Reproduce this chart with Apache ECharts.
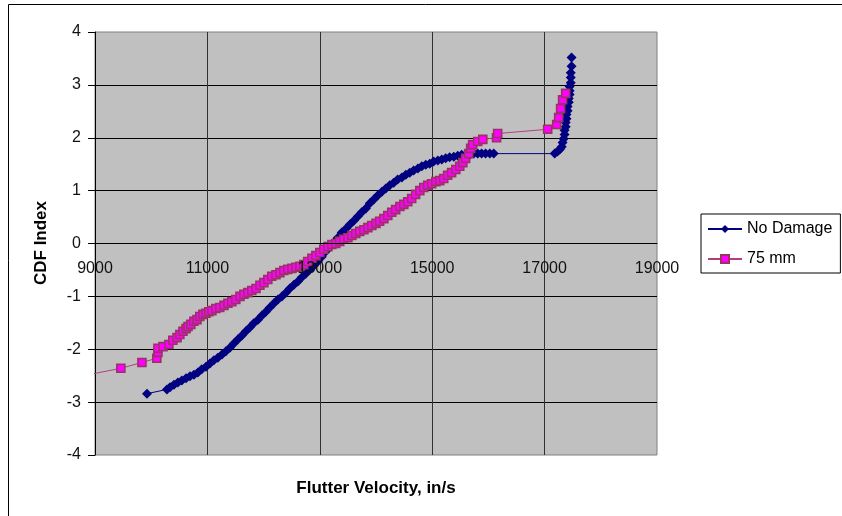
<!DOCTYPE html>
<html>
<head>
<meta charset="utf-8">
<script src="https://cdn.jsdelivr.net/npm/echarts@6/dist/echarts.min.js"></script>
<style>
  html, body { margin: 0; padding: 0; background: #fff; }
  #chart { width: 842px; height: 516px; }
</style>
</head>
<body>
<div id="chart"></div>
<script>
// axis ticks
const xTicks = { min: 9000, max: 19000, step: 2000 }
const yTicks = { min: -4, max: 4, step: 1 }

const seriesNames = ['No Damage', '75 mm']

// [flutter velocity, CDF index]
const noDamage = [
  [9925, -2.84], [10280, -2.76], [10335, -2.72], [10405, -2.67], [10475, -2.63],
  [10545, -2.59], [10620, -2.55], [10690, -2.51], [10760, -2.48], [10830, -2.44],
  [10900, -2.38], [10975, -2.33], [11045, -2.27], [11115, -2.21], [11185, -2.16],
  [11260, -2.10], [11330, -2.04], [11400, -1.97], [11470, -1.89], [11545, -1.81],
  [11615, -1.74], [11685, -1.66], [11755, -1.59], [11825, -1.51], [11900, -1.44],
  [11970, -1.36], [12040, -1.29], [12110, -1.21], [12185, -1.13], [12255, -1.06],
  [12325, -1.00], [12395, -0.93], [12465, -0.85], [12540, -0.78], [12610, -0.72],
  [12680, -0.64], [12750, -0.57], [12825, -0.49], [12895, -0.42], [12965, -0.34],
  [13035, -0.25], [13105, -0.15], [13180, -0.06], [13250, 0.02], [13320, 0.11],
  [13390, 0.21], [13465, 0.28], [13535, 0.36], [13605, 0.43], [13675, 0.51],
  [13745, 0.59], [13820, 0.66], [13890, 0.76], [13960, 0.83], [14030, 0.91],
  [14105, 0.98], [14175, 1.04], [14245, 1.10], [14315, 1.15], [14385, 1.21],
  [14460, 1.25], [14530, 1.30], [14600, 1.34], [14670, 1.38], [14745, 1.42],
  [14815, 1.46], [14885, 1.49], [14955, 1.51], [15025, 1.55], [15100, 1.57],
  [15170, 1.59], [15240, 1.61], [15310, 1.63], [15385, 1.64], [15455, 1.66],
  [15525, 1.68], [15595, 1.68], [15670, 1.68], [15740, 1.70], [15810, 1.70],
  [15880, 1.70], [15950, 1.70], [16025, 1.70], [16095, 1.70], [17180, 1.70],
  [17230, 1.74], [17270, 1.78], [17305, 1.83], [17320, 1.91], [17340, 1.98],
  [17355, 2.06], [17355, 2.14], [17375, 2.21], [17375, 2.29], [17390, 2.36],
  [17390, 2.44], [17410, 2.51], [17410, 2.59], [17430, 2.67], [17430, 2.74],
  [17445, 2.82], [17445, 2.89], [17445, 2.97], [17465, 3.04], [17465, 3.14],
  [17465, 3.23], [17480, 3.35], [17480, 3.52]
]

const mm75 = [
  [8700, -2.52], [9460, -2.36], [9835, -2.25], [10100, -2.17], [10120, -2.06],
  [10120, -1.98], [10210, -1.95], [10315, -1.91], [10385, -1.83], [10460, -1.78],
  [10510, -1.72], [10565, -1.66], [10620, -1.61], [10655, -1.57], [10705, -1.53],
  [10760, -1.47], [10815, -1.44], [10865, -1.38], [10920, -1.34], [10975, -1.32],
  [11025, -1.29], [11080, -1.27], [11150, -1.23], [11220, -1.21], [11295, -1.17],
  [11365, -1.13], [11435, -1.10], [11505, -1.06], [11580, -1.00], [11650, -0.96],
  [11720, -0.93], [11790, -0.89], [11865, -0.85], [11935, -0.79], [12005, -0.74],
  [12075, -0.68], [12145, -0.62], [12220, -0.59], [12290, -0.55], [12360, -0.51],
  [12430, -0.49], [12505, -0.47], [12575, -0.45], [12645, -0.43], [12715, -0.40],
  [12785, -0.34], [12860, -0.28], [12930, -0.23], [13000, -0.17], [13070, -0.11],
  [13145, -0.06], [13215, -0.02], [13285, 0.00], [13355, 0.04], [13425, 0.08],
  [13500, 0.11], [13570, 0.15], [13640, 0.19], [13710, 0.23], [13785, 0.26],
  [13855, 0.30], [13925, 0.34], [14000, 0.38], [14065, 0.42], [14140, 0.47],
  [14210, 0.53], [14280, 0.59], [14350, 0.64], [14425, 0.70], [14495, 0.74],
  [14565, 0.79], [14635, 0.85], [14705, 0.93], [14780, 1.00], [14850, 1.06],
  [14920, 1.10], [14990, 1.13], [15065, 1.17], [15135, 1.19], [15205, 1.23],
  [15275, 1.29], [15345, 1.34], [15420, 1.40], [15490, 1.46], [15545, 1.53],
  [15595, 1.61], [15650, 1.70], [15685, 1.80], [15720, 1.87], [15810, 1.93],
  [15900, 1.97], [16145, 2.00], [16165, 2.08], [17055, 2.16], [17215, 2.25],
  [17250, 2.38], [17285, 2.55], [17320, 2.72], [17375, 2.84]
]

const chart = echarts.init(document.getElementById('chart'))
const font = 'Liberation Sans, Arial, sans-serif'

const gridTop = 32
const gridBottom = 61
// pull the labelled x axis up to the y = 0 line
const plotH = 516 - gridTop - gridBottom
const zeroOffset = -plotH * (0 - yTicks.min) / (yTicks.max - yTicks.min)

chart.setOption({
  animation: false,
  textStyle: { fontFamily: font },
  grid: {
    left: 95, top: gridTop, right: 185, bottom: gridBottom,
    show: true,
    backgroundColor: '#c0c0c0',
    borderColor: '#808080',
    borderWidth: 1
  },
  graphic: [
    {
      type: 'rect',
      shape: { x: 8.5, y: 4.5, width: 900, height: 600 },
      style: { fill: 'none', stroke: '#000', lineWidth: 1 },
      silent: true, z: -10
    },
    {
      type: 'text',
      x: 376, y: 488,
      style: {
        text: 'Flutter Velocity, in/s',
        font: 'bold 17px ' + font,
        fill: '#000',
        align: 'center',
        verticalAlign: 'middle'
      }
    },
    {
      type: 'text',
      x: 41, y: 243,
      rotation: Math.PI / 2,
      style: {
        text: 'CDF Index',
        font: 'bold 17px ' + font,
        fill: '#000',
        align: 'center',
        verticalAlign: 'middle'
      }
    }
  ],
  legend: {
    data: seriesNames,
    orient: 'vertical',
    left: 701, top: 214,
    padding: [7, 8, 6, 6],
    itemWidth: 34, itemHeight: 10, itemGap: 14,
    borderColor: '#000', borderWidth: 1,
    backgroundColor: '#fff',
    textStyle: { fontSize: 16, color: '#000', fontFamily: font }
  },
  xAxis: [
    {
      // crosses at y = 0, labels drawn above the series
      type: 'value',
      position: 'bottom',
      offset: zeroOffset,
      min: xTicks.min, max: xTicks.max, interval: xTicks.step,
      z: 5,
      axisLine: { show: true, onZero: false, lineStyle: { color: '#000', width: 1 } },
      axisTick: { show: false },
      axisLabel: {
        show: true, margin: 17, fontSize: 16, color: '#111', fontFamily: font,
        formatter: v => String(v)
      },
      splitLine: { show: false }
    },
    {
      // same scale, only for the vertical grid lines under the series
      type: 'value',
      position: 'bottom',
      min: xTicks.min, max: xTicks.max, interval: xTicks.step,
      axisLine: { show: false, onZero: false },
      axisTick: { show: false },
      axisLabel: { show: false },
      splitLine: { show: true, showMaxLine: false, lineStyle: { color: '#303030', width: 1 } }
    }
  ],
  yAxis: {
    type: 'value',
    min: yTicks.min, max: yTicks.max, interval: yTicks.step,
    axisLine: { show: true, lineStyle: { color: '#000', width: 1 } },
    axisTick: { show: true, inside: false, length: 7, lineStyle: { color: '#000' } },
    axisLabel: { margin: 14, fontSize: 16, color: '#111', fontFamily: font },
    splitLine: { show: true, showMinLine: false, showMaxLine: false, lineStyle: { color: '#000', width: 1 } }
  },
  series: [
    {
      name: seriesNames[0],
      type: 'line',
      data: noDamage,
      symbol: 'diamond',
      symbolSize: 10,
      showAllSymbol: true,
      lineStyle: { color: '#000080', width: 1 },
      itemStyle: { color: '#000080' }
    },
    {
      name: seriesNames[1],
      type: 'line',
      data: mm75,
      symbol: 'rect',
      symbolSize: 8,
      showAllSymbol: true,
      lineStyle: { color: '#b0407a', width: 1 },
      itemStyle: { color: '#ff00ff', borderColor: '#993366', borderWidth: 1.6 }
    }
  ]
})
</script>
</body>
</html>
